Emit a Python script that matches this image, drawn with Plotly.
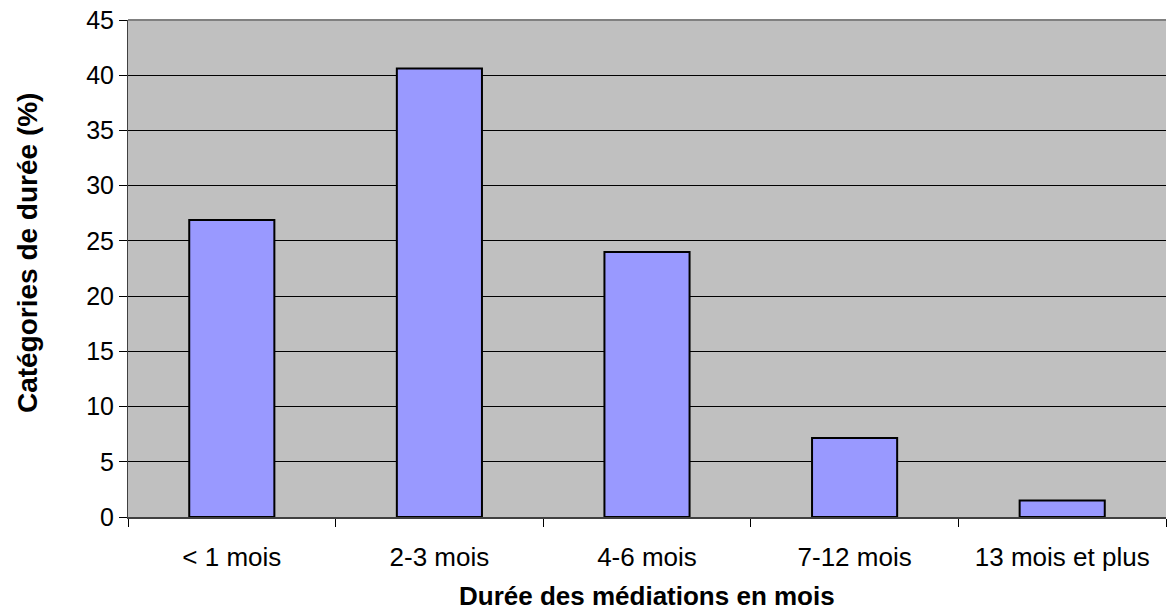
import plotly.graph_objects as go

categories = ["< 1 mois", "2-3 mois", "4-6 mois", "7-12 mois", "13 mois et plus"]
values = [26.9, 40.6, 24.0, 7.15, 1.5]
y_ticks = [0, 5, 10, 15, 20, 25, 30, 35, 40, 45]
x_title = "Durée des médiations en mois"
y_title = "Catégories de durée (%)"

fig = go.Figure(go.Bar(
    x=categories, y=values,
    marker=dict(color="#9999FF", line=dict(color="black", width=2)),
    width=0.41,
))

font = "Liberation Sans, Arial, sans-serif"
fig.update_layout(
    width=1167, height=612,
    margin=dict(l=128, r=1, t=20, b=95),
    paper_bgcolor="white", plot_bgcolor="#C0C0C0",
    font=dict(family=font, size=25, color="black"),
    showlegend=False,
    xaxis=dict(
        type="category", tickson="boundaries", ticks="outside", ticklen=8,
        tickcolor="black", showgrid=False, showline=True, linecolor="#404040",
        linewidth=2, tickfont=dict(size=26), range=[-0.5, 4.5],
        automargin=False, ticklabelstandoff=16,
    ),
    yaxis=dict(
        range=[0, 45], tickvals=y_ticks, ticks="outside", ticklen=8,
        tickcolor="black", showgrid=True, gridcolor="black", gridwidth=1,
        showline=True, linecolor="#404040", linewidth=1, zeroline=False,
        tickfont=dict(size=25), automargin=False,
    ),
    annotations=[
        dict(text=f"<b>{x_title}</b>", xref="paper", yref="paper", x=0.5, y=-0.158,
             yanchor="middle", showarrow=False, font=dict(size=26)),
        dict(text=f"<b>{y_title}</b>", xref="paper", yref="paper", x=0.0, xshift=-101,
             xanchor="center", y=0.531, textangle=-90, showarrow=False, font=dict(size=28)),
    ],
    shapes=[dict(type="line", xref="paper", yref="paper", x0=0, x1=1, y0=1, y1=1,
                 line=dict(color="#808080", width=2))],
)

fig.write_html("out.html", post_script="document.body.style.margin='0';",
               config={"displayModeBar": False})
